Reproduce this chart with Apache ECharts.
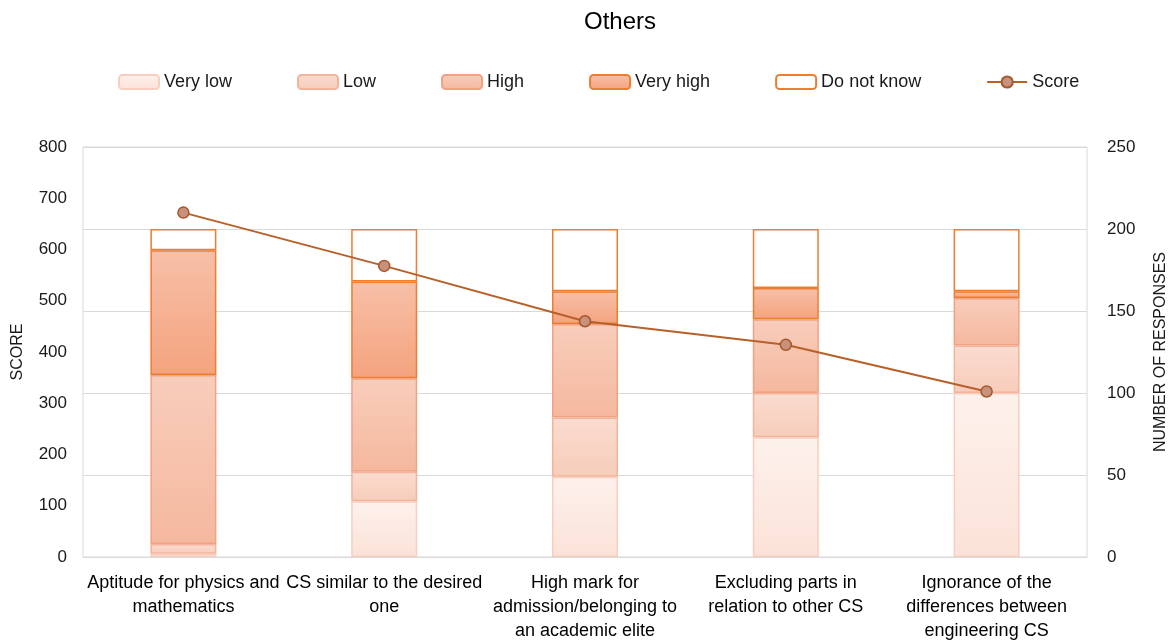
<!DOCTYPE html>
<html>
<head>
<meta charset="utf-8">
<title>Others</title>
<script src="https://cdn.jsdelivr.net/npm/echarts@6/dist/echarts.min.js"></script>
<style>
    html, body { margin: 0; padding: 0; background: #fff; }
    #chart { width: 1170px; height: 643px; }
</style>
</head>
<body>
<div id="chart"></div>
<script>
    // categories and values
    const categories = [
        'Aptitude for physics and\nmathematics',
        'CS similar to the desired\none',
        'High mark for\nadmission/belonging to\nan academic elite',
        'Excluding parts in\nrelation to other CS',
        'Ignorance of the\ndifferences between\nengineering CS'
    ];
    const veryLow = [2, 34, 49, 73, 100];
    const low = [6, 18, 36, 27, 29];
    const high = [103, 57, 57, 45, 29];
    const veryHigh = [76, 59, 20, 19, 4];
    const doNotKnow = [13, 32, 38, 36, 38];
    const score = [672, 568, 460, 414, 323];

    const font = 'Liberation Sans, Arial, sans-serif';
    const textColor = '#1a1a1a';

    function grad(top, bottom) {
        return new echarts.graphic.LinearGradient(0, 0, 0, 1, [
            { offset: 0, color: top },
            { offset: 1, color: bottom }
        ]);
    }

    function barSeries(name, data, fill, border) {
        return {
            name: name,
            type: 'bar',
            stack: 'resp',
            yAxisIndex: 1,
            barWidth: 66,
            data: data,
            itemStyle: {
                color: fill,
                borderColor: border,
                borderWidth: 1.5
            }
        };
    }

    let myChart = echarts.init(document.getElementById('chart'));
    let option = {
        animation: false,
        textStyle: { fontFamily: font },
        title: {
            text: 'Others',
            left: 584,
            top: 10,
            padding: 0,
            textStyle: { fontSize: 24, fontWeight: 'normal', color: '#000', fontFamily: font }
        },
        legend: {
            left: 118,
            top: 73,
            padding: 0,
            itemWidth: 40,
            itemHeight: 14,
            itemGap: 65,
            textStyle: { fontSize: 18, color: textColor, fontFamily: font },
            data: ['Very low', 'Low', 'High', 'Very high', 'Do not know', 'Score']
        },
        grid: {
            left: 83,
            right: 83,
            top: 147,
            bottom: 86,
            outerBoundsMode: 'none',
            containLabel: false,
            show: true,
            borderColor: '#d9d9d9',
            borderWidth: 1
        },
        xAxis: {
            type: 'category',
            data: categories,
            axisLine: { show: true, lineStyle: { color: '#d9d9d9' } },
            axisTick: { show: false },
            axisLabel: {
                interval: 0,
                margin: 14,
                fontSize: 18,
                lineHeight: 24,
                color: '#000'
            }
        },
        yAxis: [
            {
                type: 'value',
                min: 0,
                max: 800,
                interval: 100,
                name: 'SCORE',
                nameLocation: 'middle',
                nameRotate: 90,
                nameGap: 57,
                nameTextStyle: { fontSize: 16, color: textColor },
                axisLine: { show: false },
                axisTick: { show: false },
                splitLine: { show: false },
                axisLabel: { fontSize: 17, color: textColor, margin: 16 }
            },
            {
                type: 'value',
                min: 0,
                max: 250,
                interval: 50,
                name: 'NUMBER OF RESPONSES',
                nameLocation: 'middle',
                nameRotate: 90,
                nameGap: 66,
                nameTextStyle: { fontSize: 16, color: textColor },
                axisLine: { show: false },
                axisTick: { show: false },
                splitLine: { show: true, lineStyle: { color: '#d9d9d9', width: 1 } },
                axisLabel: { fontSize: 17, color: textColor, margin: 20 }
            }
        ],
        series: [
            barSeries('Very low', veryLow, grad('#fdf1ec', '#fbe2d8'), '#f8cfbf'),
            barSeries('Low', low, grad('#fadcd0', '#f7ccba'), '#f3b49b'),
            barSeries('High', high, grad('#f8cdbb', '#f5b89e'), '#f0a283'),
            barSeries('Very high', veryHigh, grad('#f7c0a8', '#f4a37e'), '#ed7d31'),
            barSeries('Do not know', doNotKnow, '#ffffff', '#ed7d31'),
            {
                name: 'Score',
                type: 'line',
                yAxisIndex: 0,
                data: score,
                z: 5,
                symbol: 'circle',
                symbolSize: 11,
                lineStyle: { color: '#b8602a', width: 2 },
                itemStyle: { color: '#c8917b', borderColor: '#a6582a', borderWidth: 1.5 }
            }
        ]
    };
    myChart.setOption(option);
</script>
</body>
</html>
